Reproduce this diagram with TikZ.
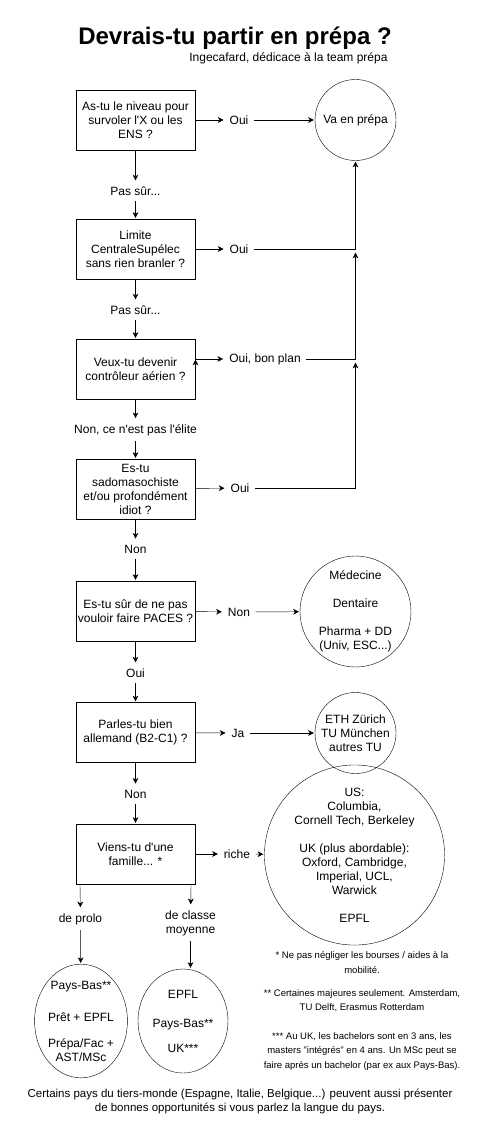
\documentclass[tikz,border=0pt]{standalone}
\usepackage{fontspec}
\setmainfont{Liberation Sans}
\usetikzlibrary{positioning, arrows.meta, shapes.geometric}

\begin{document}
\begin{tikzpicture}[x=1pt, y=1pt]
	\tikzset{
	->, % directed edges
	>={Stealth[length=7pt, width=7pt, inset=2pt]}, % filled arrow heads
	line width=1pt,
	every node/.style={font=\fontsize{12}{14}\selectfont, align=center},
	question/.style={draw, rectangle, minimum width=119pt, minimum height=60pt, inner sep=2pt}, % the questions
	answer/.style={inner sep=5pt}, % the answers between the boxes
	result/.style={draw, circle, inner sep=0pt}, % where you end up
	resultb/.style={draw, ellipse, inner sep=0pt, minimum width=90pt, minimum height=104pt}
	}
	\useasboundingbox (0,0) rectangle (481,-1129);

	\node[anchor=base, font=\fontsize{24}{28}\selectfont\bfseries] (titre) at (235,-44.5) {Devrais-tu partir en prépa ?};
	\node[anchor=base east, inner sep=0pt] (dedicace) at (388,-62) {Ingecafard, dédicace à la team prépa};

	\node[question] (niveau) at (135.5,-120) {As-tu le niveau pour\\survoler l\textquotesingle X ou les\\ENS ?};
	\node[answer] (ouiniveau) at (239,-120) {Oui};
	\node[result, minimum size=81pt] (prepa) at (355.5,-120) {Va en prépa};
	\node[answer] (passur1) at (135.5,-191) {Pas sûr...};

	\node[question] (centrale) at (135.5,-249) {Limite\\CentraleSupélec\\sans rien branler ?};
	\node[answer] (ouicentrale) at (239,-249) {Oui};
	\node[answer] (passur2) at (135.5,-310) {Pas sûr...};

	\node[question] (aerien) at (135.5,-369) {Veux-tu devenir\\contrôleur aérien ?};
	\node[answer] (ouiaerien) at (265,-359) {Oui, bon plan};
	\node[answer] (nonelite) at (135.5,-430) {Non, ce n\textquotesingle est pas l\textquotesingle élite};

	\node[question] (sado) at (135.5,-489) {Es-tu\\sadomasochiste\\et/ou profondément\\idiot ?};
	\node[answer] (ouisado) at (240,-488) {Oui};
	\node[answer] (nonsado) at (135.5,-549) {Non};

	\node[question] (pacesq) at (135.5,-611) {Es-tu sûr de ne pas\\vouloir faire PACES ?};
	\node[answer] (nonpaces) at (239,-612) {Non};
	\node[result, minimum size=111pt] (medecine) at (355.5,-611.5) {Médecine\\ \\Dentaire\\ \\Pharma + DD\\(Univ, ESC...)};
	\node[answer] (ouipaces) at (135.5,-673) {Oui};

	\node[question] (allemand) at (135.5,-732.5) {Parles-tu bien\\allemand (B2-C1) ?};
	\node[answer] (ja) at (238,-733) {Ja};
	\node[result, minimum size=81pt] (eth) at (355.5,-733) {ETH Zürich\\TU München\\autres TU};
	\node[answer] (nonallemand) at (135.5,-794) {Non};

	\node[question] (famille) at (135.5,-854) {Viens-tu d\textquotesingle une\\famille... *};
	\node[answer] (riche) at (237,-854) {riche};
	\node[result, minimum size=147pt] (etranger) at (354.5,-855) {US:\\Columbia,\\Cornell Tech, Berkeley\\ \\UK (plus abordable):\\Oxford, Cambridge,\\Imperial, UCL,\\Warwick\\ \\EPFL};

	\node[answer] (prolo) at (80.5,-919) {de prolo};
	\node[answer] (moyenne) at (190.5,-923) {de classe\\moyenne};
	\node[resultb] (pauvres) at (81,-1021) {Pays-Bas**\\[18pt]Prêt + EPFL\\[12pt]Prépa/Fac +\\AST/MSc};
	\node[resultb] (moyens) at (183,-1021) {EPFL\\[15pt]Pays-Bas**\\[11pt]UK***};

	\node[font=\fontsize{9.5}{14.5}\selectfont] (notes) at (362,-1011) {* Ne pas négliger les bourses / aides à la\\mobilité.\\[8.5pt]** Certaines majeures seulement. Amsterdam,\\TU Delft, Erasmus Rotterdam\\[14pt]*** Au UK, les bachelors sont en 3 ans, les\\masters "intégrés" en 4 ans. Un MSc peut se\\faire après un bachelor (par ex aux Pays-Bas).};
	\node[font=\fontsize{11.5}{14}\selectfont] (tiers) at (240,-1101) {Certains pays du tiers-monde (Espagne, Italie, Belgique...) peuvent aussi présenter\\de bonnes opportunités si vous parlez la langue du pays.};

	\draw
	(niveau) edge (ouiniveau)
	(ouiniveau) edge (prepa)
	(niveau) edge (passur1)
	(passur1) edge (centrale)
	(centrale) edge (ouicentrale)
	(centrale) edge (passur2)
	(passur2) edge (aerien)
	(aerien.east |- ouiaerien) edge (ouiaerien)
	(aerien) edge (nonelite)
	(nonelite) edge (sado)
	(sado) edge (ouisado)
	(sado) edge (nonsado)
	(nonsado) edge (pacesq)
	(pacesq) edge (nonpaces)
	(nonpaces) edge (medecine)
	(pacesq) edge (ouipaces)
	(ouipaces) edge (allemand)
	(allemand) edge (ja)
	(ja) edge (eth)
	(allemand) edge (nonallemand)
	(nonallemand) edge (famille)
	(famille) edge (riche)
	(riche) edge (etranger)
	;

	% the yes answers all go back up to the prepa
	\coordinate (jcentrale) at (prepa |- ouicentrale);
	\coordinate (jaerien) at (prepa |- ouiaerien);
	\draw (ouicentrale) -| (prepa);
	\draw[shorten >=3pt] (ouiaerien) -| (jcentrale);
	\draw[shorten >=3pt] (ouisado) -| (jaerien);

	% two ways down from the family box
	\draw ([xshift=4.5pt]famille.south west) -- (prolo);
	\draw ([xshift=-4.5pt]famille.south east) -- (moyenne);
	\draw (prolo) -- (pauvres);
	\draw (moyenne) -- (moyenne |- moyens.north);
\end{tikzpicture}
\end{document}
